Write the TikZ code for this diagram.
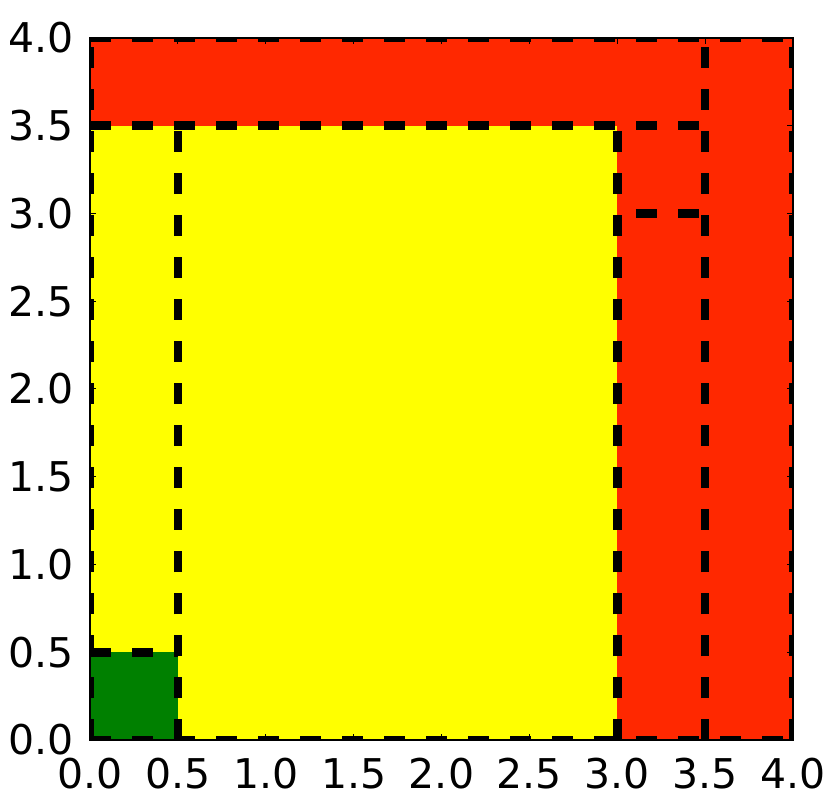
\documentclass[tikz,border=0pt]{standalone}
\usepackage{fontspec}
\setmainfont{DejaVu Sans}
\definecolor{pred}{RGB}{255,40,0}
\definecolor{pyel}{RGB}{255,255,0}
\definecolor{pgrn}{RGB}{0,128,0}
\begin{document}
\begin{tikzpicture}[x=1pt,y=1pt,
  box/.style={line width=8.5pt, dash pattern=on 21pt off 21pt},
  lab/.style={font=\fontsize{41}{49}\selectfont, inner sep=0pt},
  tick/.style={line width=1pt}]
\useasboundingbox (0,0) rectangle (829,806);
\begin{scope}[shift={(90,66)}, x=175.75pt, y=175.5pt]
  \begin{scope}
    \clip (0,0) rectangle (4,4);
    \foreach \xa/\ya/\xb/\yb/\col in {0/3.5/3.5/4/pred, 3.5/0/4/4/pred, 3/0/3.5/3.5/pred, 3/3/3.5/3.5/pred, 0/0.5/0.5/3.5/pyel, 0.5/0/3/3.5/pyel, 0/0/0.5/0.5/pgrn}{
      \fill[\col] (\xa,\ya) rectangle (\xb,\yb);
    }
    \foreach \xa/\ya/\xb/\yb in {0/3.5/3.5/4, 3.5/0/4/4, 3/0/3.5/3.5, 3/3/3.5/3.5, 0/0.5/0.5/3.5, 0.5/0/3/3.5, 0/0/0.5/0.5}{
      \pgfmathsetmacro\phx{mod(\xa*175.75,42)}
      \pgfmathsetmacro\phy{mod(\ya*175.5,42)}
      \draw[box, dash phase=\phx pt] (\xa,\ya) -- (\xb,\ya);
      \draw[box, dash phase=\phx pt] (\xa,\yb) -- (\xb,\yb);
      \draw[box, dash phase=\phy pt] (\xa,\ya) -- (\xa,\yb);
      \draw[box, dash phase=\phy pt] (\xb,\ya) -- (\xb,\yb);
    }
    \foreach \v in {0,0.5,...,4}{
      \draw[tick] (\v,0) -- ++(0pt,6pt);
      \draw[tick] (\v,4) -- ++(0pt,-6pt);
      \draw[tick] (0,\v) -- ++(6pt,0pt);
      \draw[tick] (4,\v) -- ++(-6pt,0pt);
    }
  \end{scope}
  \draw[line width=2.5pt] (0,0) rectangle (4,4);
  \foreach \v/\t in {0/0.0,0.5/0.5,1/1.0,1.5/1.5,2/2.0,2.5/2.5,3/3.0,3.5/3.5,4/4.0}{
    \node[lab] (xl\t) at ([yshift=-34pt]\v,0) {\t};
    \node[lab, anchor=east] (yl\t) at ([xshift=-16pt]0,\v) {\t};
  }
\end{scope}
\end{tikzpicture}
\end{document}
